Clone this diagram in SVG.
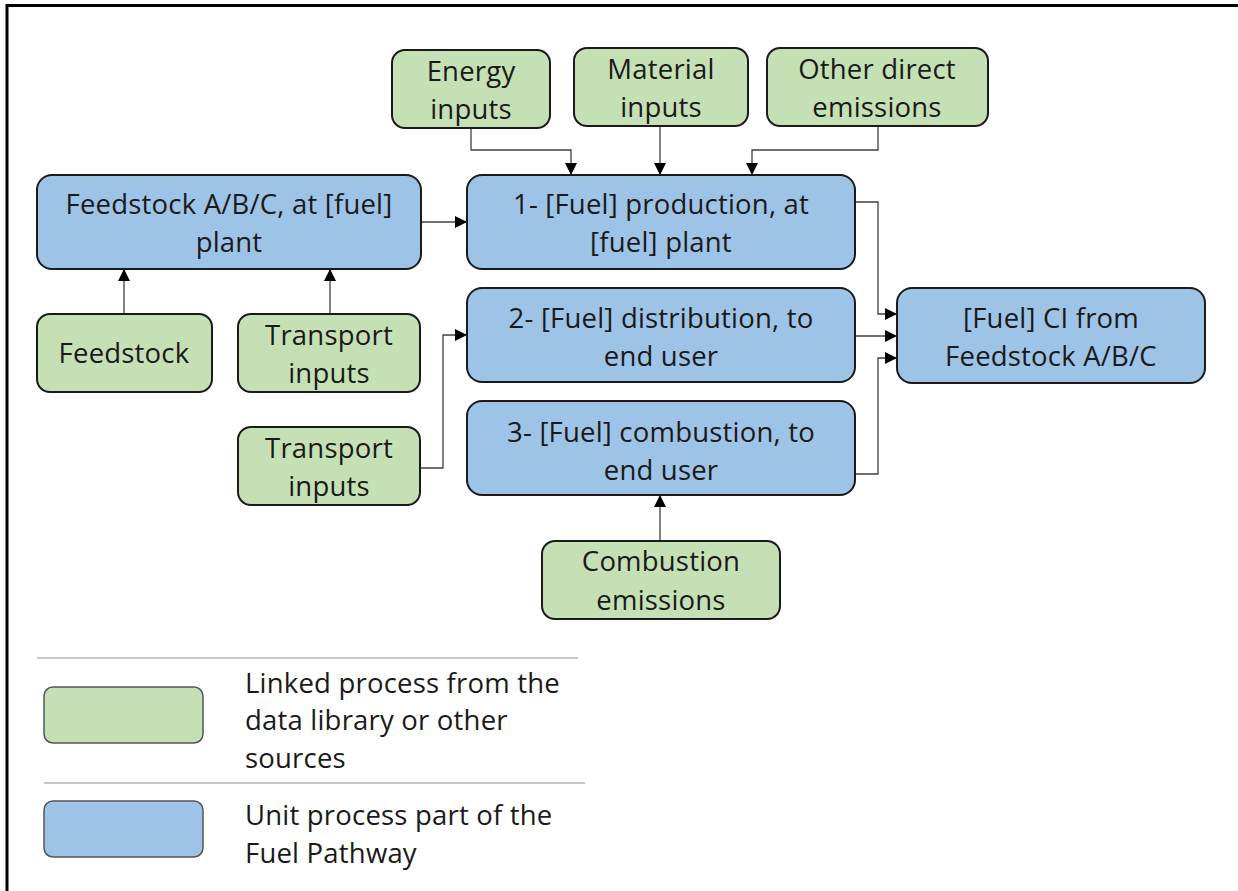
<svg xmlns="http://www.w3.org/2000/svg" width="1238" height="891" viewBox="0 0 1238 891">
<defs>
<style>
.g{fill:#C5E0B4;stroke:#1a1a1a;stroke-width:2}
.b{fill:#9DC3E6;stroke:#1a1a1a;stroke-width:2}
.lg{fill:#C5E0B4;stroke:#555;stroke-width:1.5}
.lb{fill:#9DC3E6;stroke:#555;stroke-width:1.5}
text{font-family:"Open Sans","Liberation Sans",Arial,sans-serif;font-size:27.5px;letter-spacing:0.2px;fill:#1a1a1a}
.c{text-anchor:middle}
.cn{fill:none;stroke:#404040;stroke-width:1.3}
</style>
<marker id="ah" markerWidth="12" markerHeight="12" refX="11" refY="6" orient="auto" markerUnits="userSpaceOnUse">
<path d="M0,0 L12,6 L0,12 Z" fill="#000"/>
</marker>
</defs>
<rect width="1238" height="891" fill="#fff"/>
<path d="M7,891 V5.5 H1238" fill="none" stroke="#000" stroke-width="3"/>

<g id="connectors">
<path class="cn" d="M471,128 V150 H571 V174" marker-end="url(#ah)"/>
<path class="cn" d="M660,126 V174" marker-end="url(#ah)"/>
<path class="cn" d="M878,126 V150 H752 V174" marker-end="url(#ah)"/>
<path class="cn" d="M421,222 H466" marker-end="url(#ah)"/>
<path class="cn" d="M124,314 V270" marker-end="url(#ah)"/>
<path class="cn" d="M330,314 V270" marker-end="url(#ah)"/>
<path class="cn" d="M420,468 H443 V335 H466" marker-end="url(#ah)"/>
<path class="cn" d="M855,202 H878 V314 H896" marker-end="url(#ah)"/>
<path class="cn" d="M855,336 H896" marker-end="url(#ah)"/>
<path class="cn" d="M855,474 H878 V358 H896" marker-end="url(#ah)"/>
<path class="cn" d="M660,541 V496" marker-end="url(#ah)"/>
</g>

<g id="energy"><rect class="g" x="392" y="50" width="158" height="78" rx="13"/>
<text class="c" x="471" y="81">Energy</text><text class="c" x="471" y="119">inputs</text></g>
<g id="material"><rect class="g" x="574" y="48" width="174" height="78" rx="13"/>
<text class="c" x="661" y="79">Material</text><text class="c" x="661" y="117">inputs</text></g>
<g id="other"><rect class="g" x="767" y="48" width="221" height="78" rx="13"/>
<text class="c" x="877" y="79">Other direct</text><text class="c" x="877" y="117">emissions</text></g>

<g id="feedstock-plant"><rect class="b" x="37" y="175" width="384" height="94" rx="15"/>
<text class="c" x="229" y="214">Feedstock A/B/C, at [fuel]</text><text class="c" x="229" y="252">plant</text></g>
<g id="production"><rect class="b" x="467" y="175" width="388" height="94" rx="15"/>
<text class="c" x="661" y="214">1- [Fuel] production, at</text><text class="c" x="661" y="252">[fuel] plant</text></g>
<g id="distribution"><rect class="b" x="467" y="288" width="388" height="94" rx="15"/>
<text class="c" x="661" y="328">2- [Fuel] distribution, to</text><text class="c" x="661" y="366">end user</text></g>
<g id="combustion"><rect class="b" x="467" y="401" width="388" height="94" rx="15"/>
<text class="c" x="661" y="442">3- [Fuel] combustion, to</text><text class="c" x="661" y="480">end user</text></g>
<g id="ci"><rect class="b" x="897" y="288" width="308" height="95" rx="15"/>
<text class="c" x="1051" y="328">[Fuel] CI from</text><text class="c" x="1051" y="366">Feedstock A/B/C</text></g>

<g id="feedstock"><rect class="g" x="37" y="314" width="175" height="78" rx="13"/>
<text class="c" x="124" y="363">Feedstock</text></g>
<g id="transport1"><rect class="g" x="238" y="314" width="182" height="78" rx="13"/>
<text class="c" x="329" y="345">Transport</text><text class="c" x="329" y="383">inputs</text></g>
<g id="transport2"><rect class="g" x="238" y="427" width="182" height="78" rx="13"/>
<text class="c" x="329" y="458">Transport</text><text class="c" x="329" y="496">inputs</text></g>
<g id="combustion-emissions"><rect class="g" x="542" y="541" width="238" height="78" rx="13"/>
<text class="c" x="661" y="571">Combustion</text><text class="c" x="661" y="610">emissions</text></g>

<g id="legend">
<line x1="37" y1="658" x2="578" y2="658" stroke="#c8c8c8" stroke-width="2"/>
<line x1="44" y1="783" x2="585" y2="783" stroke="#c8c8c8" stroke-width="2"/>
<rect class="lg" x="44" y="687" width="159" height="56" rx="9"/>
<rect class="lb" x="44" y="801" width="159" height="56" rx="9"/>
<text x="245" y="693">Linked process from the</text>
<text x="245" y="730">data library or other</text>
<text x="245" y="768">sources</text>
<text x="245" y="825">Unit process part of the</text>
<text x="245" y="863">Fuel Pathway</text>
</g>
</svg>
